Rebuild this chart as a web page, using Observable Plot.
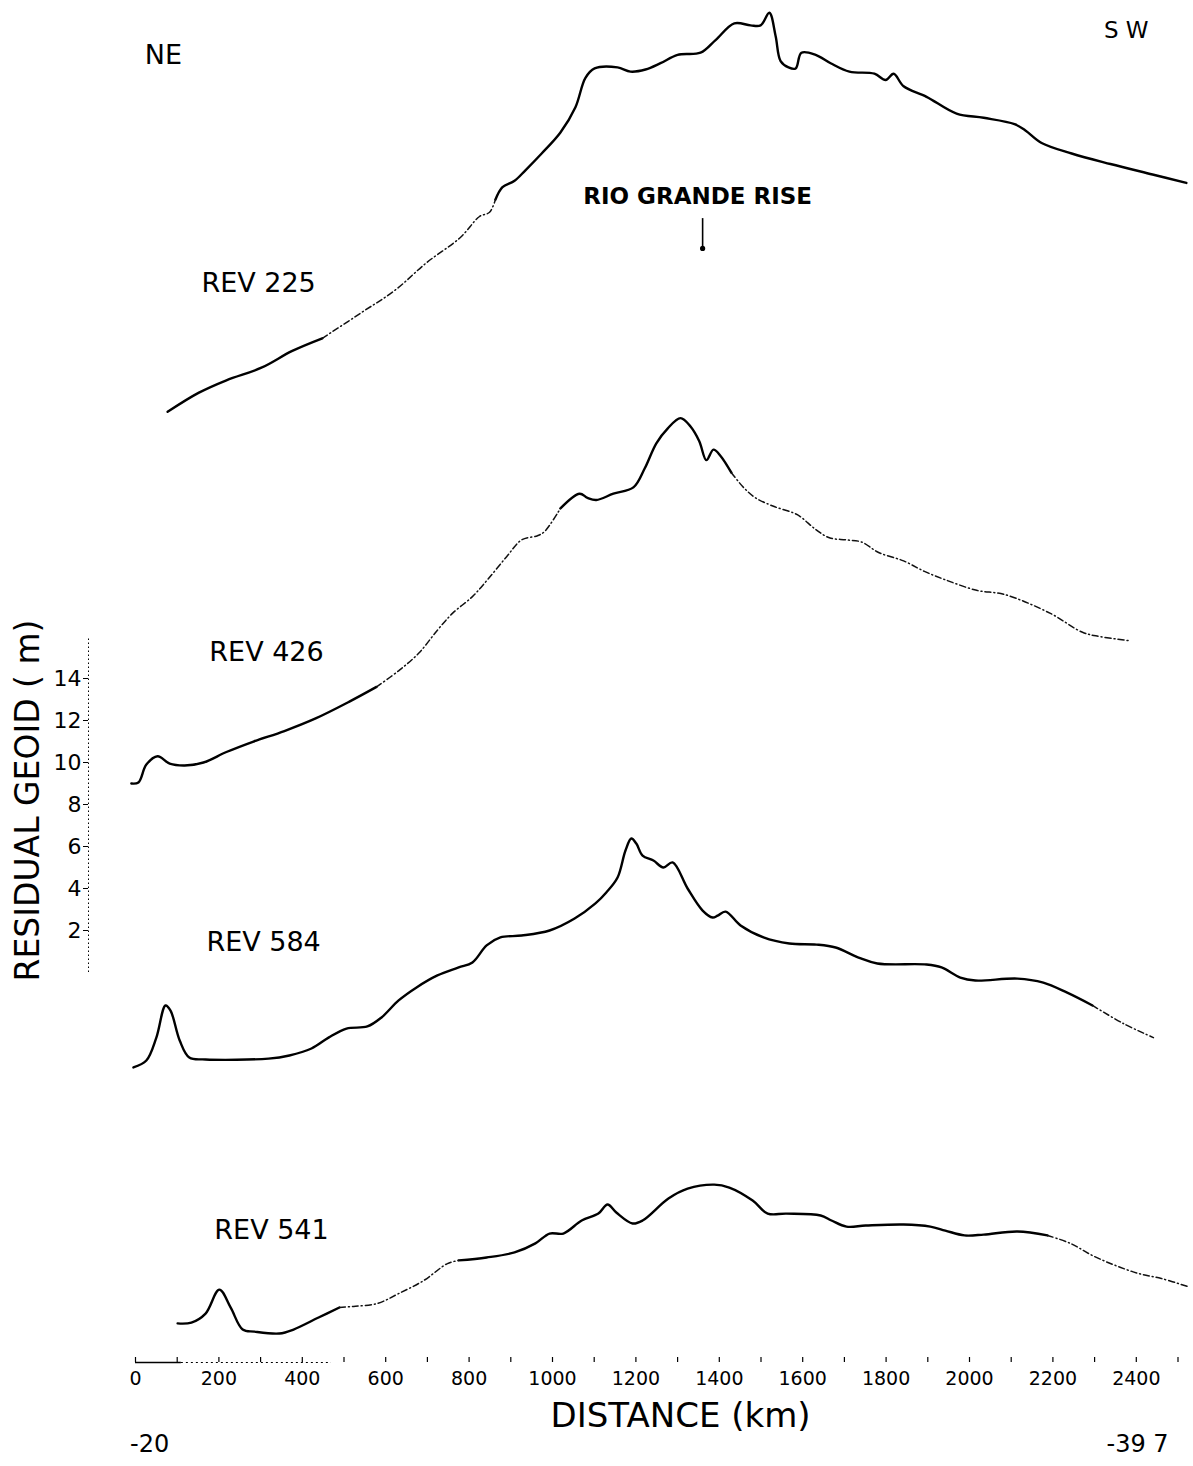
<!DOCTYPE html>
<html><head><meta charset="utf-8">
<script src="https://cdn.jsdelivr.net/npm/d3@7"></script>
<script src="https://cdn.jsdelivr.net/npm/@observablehq/plot@0.6"></script>
<style>
html,body{margin:0;padding:0;background:#fff;}
#chart{width:1193px;height:1466px;}
</style></head><body><div id="chart"></div>
<script>
// ---- profile data: distance (km) and displayed residual geoid (m, stacked frame) ----
const rev225Km = [77,151,218,302,376,448,540,623,698,779,825,849,863,880,909,935,974,1019,1055,1079,1101,1156,1187,1223,1259,1300,1355,1391,1436,1475,1499,1520,1535,1547,1566,1583,1597,1631,1667,1712,1772,1799,1818,1842,1897,1969,2034,2108,2134,2173,2245,2338,2439,2520];
const rev225M  = [26.7,27.6,28.2,28.8,29.6,30.2,31.4,32.5,33.8,35.0,36.0,36.2,36.8,37.4,37.7,38.2,39.0,40.0,41.2,42.6,43.05,43.1,42.9,43.0,43.3,43.7,43.8,44.4,45.2,45.1,45.1,45.7,44.6,43.4,43.1,43.05,43.8,43.7,43.3,42.9,42.8,42.5,42.8,42.2,41.7,40.9,40.7,40.4,40.1,39.5,39.0,38.5,38.0,37.6];

const rev426Km = [-10,7,26,53,82,118,163,218,283,357,432,513,578,633,679,724,760,808,844,890,926,964,981,1019,1065,1084,1105,1146,1194,1221,1249,1276,1307,1331,1352,1369,1386,1403,1429,1458,1487,1530,1587,1631,1664,1705,1741,1782,1842,1892,1942,2017,2084,2194,2271,2312,2384];
const rev426M  = [9.0,9.05,9.9,10.3,9.95,9.86,10.0,10.5,11.0,11.5,12.1,12.9,13.6,14.4,15.2,16.3,17.1,17.9,18.7,19.8,20.6,20.8,21.0,22.1,22.8,22.6,22.5,22.8,23.1,24.0,25.2,25.9,26.4,26.0,25.3,24.4,24.9,24.6,23.8,23.1,22.6,22.2,21.8,21.1,20.7,20.6,20.5,20.0,19.6,19.1,18.7,18.2,18.0,17.1,16.2,16.0,15.8];

const rev584Km = [-5,26,50,72,84,106,129,168,319,369,422,463,506,556,590,631,674,724,775,808,842,875,926,993,1053,1103,1129,1156,1175,1189,1201,1216,1242,1266,1288,1324,1360,1384,1396,1415,1451,1506,1568,1633,1679,1734,1779,1897,1933,1978,2014,2115,2177,2233,2295,2369,2441];
const rev584M  = [-4.52,-4.19,-3.10,-1.57,-1.81,-3.24,-4.05,-4.14,-4.10,-3.95,-3.62,-3.10,-2.67,-2.57,-2.14,-1.33,-0.71,-0.14,0.24,0.48,1.29,1.67,1.76,2.00,2.57,3.29,3.81,4.52,5.81,6.38,6.14,5.57,5.33,5.00,5.24,4.00,2.95,2.62,2.71,2.90,2.24,1.67,1.38,1.33,1.19,0.71,0.43,0.38,0.24,-0.24,-0.38,-0.29,-0.48,-0.95,-1.57,-2.43,-3.10];

const rev541Km = [101,134,168,201,228,257,285,345,379,439,489,523,580,631,691,748,775,842,909,959,993,1026,1070,1110,1132,1153,1192,1216,1278,1324,1388,1424,1480,1516,1561,1643,1669,1705,1751,1842,1906,1942,1988,2034,2115,2187,2242,2295,2350,2405,2460,2523];
const rev541M  = [-16.71,-16.67,-16.24,-15.10,-15.95,-17.00,-17.10,-17.19,-17.00,-16.43,-15.95,-15.90,-15.76,-15.29,-14.67,-13.86,-13.71,-13.57,-13.33,-12.90,-12.43,-12.43,-11.81,-11.48,-11.05,-11.43,-11.95,-11.81,-10.76,-10.29,-10.10,-10.24,-10.86,-11.48,-11.48,-11.57,-11.81,-12.10,-12.05,-12.00,-12.10,-12.29,-12.52,-12.48,-12.33,-12.52,-12.90,-13.48,-13.95,-14.33,-14.57,-14.95];

// faintly printed (broken) stretches of each trace, km ranges
const rev225Faint = [[420, 860]];
const rev426Faint = [[560, 1000], [1420, 2400]];
const rev584Faint = [[2290, 2450]];
const rev541Faint = [[500, 770], [2190, 2530]];

// profile labels
const revLabels = ["REV 225", "REV 426", "REV 584", "REV 541"];
const revLabelKm = [158, 177, 170, 189];
const revLabelM  = [32.81, 15.24, 1.43, -12.29];

// axis ticks
const xTickLabels = [0,200,400,600,800,1000,1200,1400,1600,1800,2000,2200,2400];
const xTickMarks = d3.range(0, 2501, 100);
const yTickLabels = [2,4,6,8,10,12,14];
const yBar = [0, 16];

// other annotations
const notes = [
  {t: "NE", km: 67, m: 43.67, size: 27},
  {t: "S W", km: 2376, m: 44.86, size: 23},
  {t: "-20", km: 34, m: -22.48, size: 24},
  {t: "-39 7", km: 2403, m: -22.48, size: 24}
];
const riseLabel = {t: "RIO GRANDE RISE", km: 1348, m: 36.95};
const riseArrow = {km: 1360, top: 35.9, tip: 34.48};

// ---- layout ----
const W = 1193, H = 1466, ML = 88, MB = 104;
const pxPerKm = 0.417, x0px = 135;      // x pixel of 0 km
const pxPerM = 21, mTop = 46.286;       // value at top edge
const xDomain = [(ML - x0px) / pxPerKm, (W - x0px) / pxPerKm];
const yDomain = [mTop - (H - MB) / pxPerM, mTop];

function rows(name, kms, ms, faint) {
  const out = [];
  const isF = i => { const mid = (kms[i] + kms[i + 1]) / 2; return faint.some(([a, b]) => mid >= a && mid <= b); };
  let i = 0, seg = 0;
  while (i < kms.length - 1) {
    const f = isF(i); let j = i;
    while (j < kms.length - 1 && isF(j) === f) j++;
    for (let k = i; k <= j; k++) out.push({km: kms[k], m: ms[k], seg: name + "-" + seg, faint: f});
    seg++; i = j;
  }
  return out;
}
const all = [
  ...rows("225", rev225Km, rev225M, rev225Faint),
  ...rows("426", rev426Km, rev426M, rev426Faint),
  ...rows("584", rev584Km, rev584M, rev584Faint),
  ...rows("541", rev541Km, rev541M, rev541Faint)
];
const solid = all.filter(d => !d.faint);
const faint = all.filter(d => d.faint);

const plot = Plot.plot({
  width: W, height: H,
  marginLeft: ML, marginRight: 0, marginTop: 0, marginBottom: MB,
  x: {domain: xDomain, axis: null},
  y: {domain: yDomain, axis: null},
  style: {fontFamily: "'DejaVu Sans', sans-serif", background: "#fff", color: "#000"},
  marks: [
    // y scale bar
    Plot.ruleX([xDomain[0]], {y1: yBar[0], y2: yBar[1], stroke: "#000", strokeWidth: 1, strokeDasharray: "1.5,2.5"}),
    Plot.axisY({anchor: "left", ticks: yTickLabels, tickSize: 5, tickPadding: 2, fontSize: 22, label: null, tickFormat: d3.format("d")}),
    // x axis
    Plot.ruleY([yDomain[0]], {x1: 0, x2: 110, stroke: "#000", strokeWidth: 1.5}),
    Plot.ruleY([yDomain[0]], {x1: 110, x2: 470, stroke: "#000", strokeWidth: 1, strokeDasharray: "2,3"}),
    Plot.axisX({anchor: "bottom", ticks: xTickMarks, tickSize: 5, dy: -5, tickFormat: () => "", label: null, strokeWidth: 1.2}),
    Plot.axisX({anchor: "bottom", ticks: xTickLabels, tickSize: 0, tickPadding: 9, fontSize: 19, label: null, tickFormat: d3.format("d")}),
    Plot.text(["DISTANCE (km)"], {x: 1307, y: -21.12, fontSize: 34, text: d => d}),
    Plot.text(["RESIDUAL GEOID ( m)"], {x: -257, y: 8.19, fontSize: 33, rotate: -90, text: d => d}),
    // traces
    Plot.line(solid, {x: "km", y: "m", z: "seg", curve: "catmull-rom", stroke: "#000", strokeWidth: 2.4}),
    Plot.line(faint, {x: "km", y: "m", z: "seg", curve: "catmull-rom", stroke: "#111", strokeWidth: 1.5, strokeDasharray: "6,3,1,3"}),
    // labels
    Plot.text(revLabels, {x: (d, i) => revLabelKm[i], y: (d, i) => revLabelM[i], text: d => d, textAnchor: "start", fontSize: 27}),
    Plot.text(notes, {x: "km", y: "m", text: "t", fontSize: "size"}),
    Plot.text([riseLabel], {x: "km", y: "m", text: "t", fontSize: 23, fontWeight: "bold"}),
    Plot.ruleX([riseArrow], {x: "km", y1: "top", y2: "tip", stroke: "#000", strokeWidth: 1.6}),
    Plot.dot([riseArrow], {x: "km", y: "tip", r: 2.6, fill: "#000", stroke: null})
  ]
});
document.getElementById("chart").appendChild(plot);
</script>
</body></html>
